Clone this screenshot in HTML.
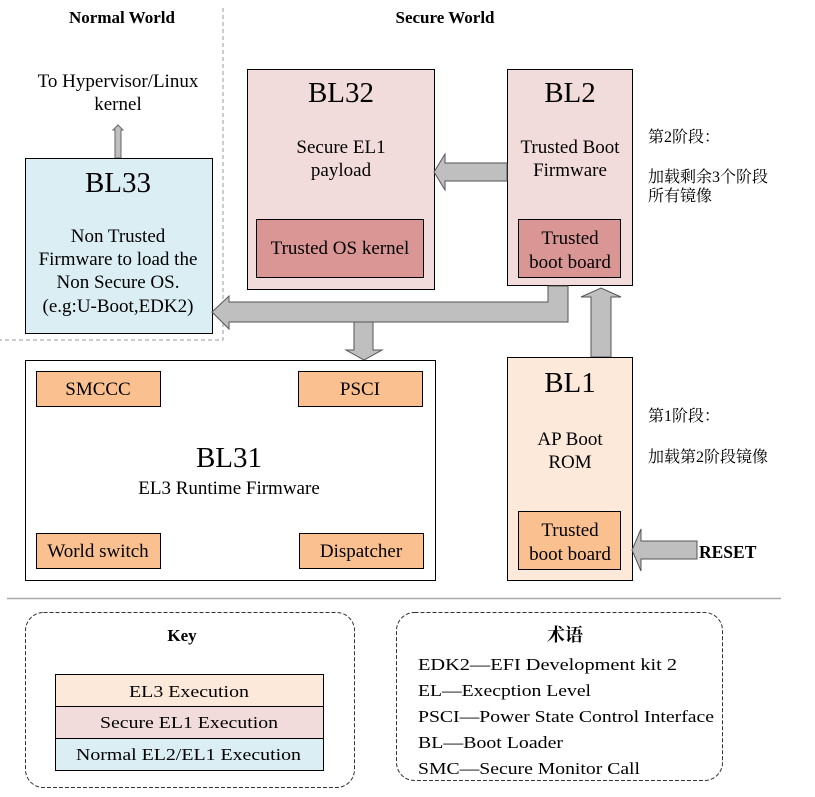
<!DOCTYPE html>
<html><head><meta charset="utf-8"><style>
html,body{margin:0;padding:0;background:#fff;}
svg{display:block;}
</style></head><body>
<svg width="815" height="797" viewBox="0 0 815 797" xmlns="http://www.w3.org/2000/svg" font-family="'Liberation Serif', 'DejaVu Serif', 'Noto Serif CJK SC', serif" style="font-family:'Liberation Serif','DejaVu Serif','Noto Serif CJK SC',serif">
<rect width="815" height="797" fill="#fff"/>
<path d="M223 8 V340 H0" fill="none" stroke="#999" stroke-width="1" stroke-dasharray="4,3"/>
<text x="122" y="23" font-size="17" font-weight="bold" text-anchor="middle">Normal World</text>
<text x="445" y="23" font-size="17" font-weight="bold" text-anchor="middle">Secure World</text>

<text x="118" y="87" font-size="19" text-anchor="middle">To Hypervisor/Linux</text>
<text x="118" y="110" font-size="19" text-anchor="middle">kernel</text>
<path d="M115 158 V130 H113 L118 125 L123 130 H121 V158 Z" fill="#bfbfbf" stroke="#666" stroke-width="1"/>

<rect x="25.5" y="158.5" width="187" height="175" fill="#dbeef4" stroke="#000"/>
<text x="118" y="192" font-size="29" text-anchor="middle">BL33</text>
<text x="118" y="242" font-size="19" text-anchor="middle">Non Trusted</text>
<text x="118" y="265" font-size="19" text-anchor="middle">Firmware to load the</text>
<text x="118" y="288" font-size="19" text-anchor="middle">Non Secure OS.</text>
<text x="118" y="312" font-size="19" text-anchor="middle">(e.g:U-Boot,EDK2)</text>

<rect x="247.5" y="69.5" width="187" height="220" fill="#f2dcdb" stroke="#000"/>
<text x="341" y="102" font-size="29" text-anchor="middle">BL32</text>
<text x="341" y="153" font-size="19" text-anchor="middle">Secure EL1</text>
<text x="341" y="176" font-size="19" text-anchor="middle">payload</text>
<rect x="256.5" y="219.5" width="167" height="58" fill="#d99694" stroke="#000"/>
<text x="340" y="254" font-size="19" text-anchor="middle">Trusted OS kernel</text>

<rect x="507.5" y="69.5" width="125" height="216" fill="#f2dcdb" stroke="#000"/>
<text x="570" y="102" font-size="29" text-anchor="middle">BL2</text>
<text x="570" y="153" font-size="19" text-anchor="middle">Trusted Boot</text>
<text x="570" y="176" font-size="19" text-anchor="middle">Firmware</text>
<rect x="518.5" y="219.5" width="102" height="58" fill="#d99694" stroke="#000"/>
<text x="570" y="244" font-size="19" text-anchor="middle">Trusted</text>
<text x="570" y="268" font-size="19" text-anchor="middle">boot board</text>

<text x="648" y="142" font-size="16">第2阶段：</text>
<text x="648" y="182" font-size="16">加载剩余3个阶段</text>
<text x="648" y="201" font-size="16">所有镜像</text>

<path d="M507 163 H445 V154 L434 172 L445 190 V181 H507 Z" fill="#bfbfbf" stroke="#555" stroke-width="1"/>
<path d="M548 286 V302 H229 V296 L212 312 L229 329 V322 H568 V286 Z" fill="#bfbfbf" stroke="#555" stroke-width="1"/>
<path d="M354 322 V350 H346 L364 360 L382 350 H373 V322 Z" fill="#bfbfbf" stroke="#555" stroke-width="1"/>
<path d="M591 357 V297 H581 L601 288 L621 297 H611 V357 Z" fill="#bfbfbf" stroke="#555" stroke-width="1"/>

<rect x="25.5" y="360.5" width="410" height="220" fill="#fff" stroke="#000"/>
<rect x="36.5" y="371.5" width="124" height="35" fill="#fac090" stroke="#000"/>
<text x="98" y="395" font-size="19" text-anchor="middle">SMCCC</text>
<rect x="298.5" y="371.5" width="124" height="35" fill="#fac090" stroke="#000"/>
<text x="360" y="395" font-size="19" text-anchor="middle">PSCI</text>
<text x="229" y="467" font-size="29" text-anchor="middle">BL31</text>
<text x="229" y="494" font-size="19" text-anchor="middle">EL3 Runtime Firmware</text>
<rect x="36.5" y="533.5" width="124" height="35" fill="#fac090" stroke="#000"/>
<text x="98" y="557" font-size="19" text-anchor="middle">World switch</text>
<rect x="299.5" y="533.5" width="124" height="35" fill="#fac090" stroke="#000"/>
<text x="361" y="557" font-size="19" text-anchor="middle">Dispatcher</text>

<rect x="507.5" y="357.5" width="125" height="223" fill="#fde9d9" stroke="#000"/>
<text x="570" y="392" font-size="29" text-anchor="middle">BL1</text>
<text x="570" y="445" font-size="19" text-anchor="middle">AP Boot</text>
<text x="570" y="468" font-size="19" text-anchor="middle">ROM</text>
<rect x="518.5" y="511.5" width="102" height="58" fill="#fac090" stroke="#000"/>
<text x="570" y="536" font-size="19" text-anchor="middle">Trusted</text>
<text x="570" y="560" font-size="19" text-anchor="middle">boot board</text>
<text x="648" y="421" font-size="16">第1阶段：</text>
<text x="648" y="462" font-size="16">加载第2阶段镜像</text>

<path d="M697 541 H641 V529 L632 550 L641 571 V559 H697 Z" fill="#bfbfbf" stroke="#555" stroke-width="1"/>
<text x="699" y="558" font-size="17.5" font-weight="bold">RESET</text>

<line x1="7" y1="598.5" x2="781" y2="598.5" stroke="#aaa" stroke-width="1.5"/>

<rect x="25.5" y="612.5" width="329" height="175" rx="18" fill="none" stroke="#333" stroke-dasharray="4,2"/>
<text x="182" y="641" font-size="17" font-weight="bold" text-anchor="middle">Key</text>
<rect x="55.5" y="674.5" width="268" height="32" fill="#fde9d9" stroke="#000"/>
<rect x="55.5" y="706.5" width="268" height="32" fill="#f2dcdb" stroke="#000"/>
<rect x="55.5" y="738.5" width="268" height="32" fill="#dbeef4" stroke="#000"/>
<text x="129" y="697" font-size="17" textLength="120" lengthAdjust="spacingAndGlyphs">EL3 Execution</text>
<text x="100" y="728" font-size="17" textLength="178" lengthAdjust="spacingAndGlyphs">Secure EL1 Execution</text>
<text x="76" y="760" font-size="17" textLength="225" lengthAdjust="spacingAndGlyphs">Normal EL2/EL1 Execution</text>

<rect x="396.5" y="612.5" width="326" height="168" rx="18" fill="none" stroke="#333" stroke-dasharray="4,2"/>
<text x="565" y="641" font-size="18" font-weight="bold" text-anchor="middle">术语</text>
<text x="418" y="670" font-size="17" textLength="259" lengthAdjust="spacingAndGlyphs">EDK2—EFI Development kit 2</text>
<text x="418" y="696" font-size="17" textLength="173" lengthAdjust="spacingAndGlyphs">EL—Execption Level</text>
<text x="418" y="722" font-size="17" textLength="296" lengthAdjust="spacingAndGlyphs">PSCI—Power State Control Interface</text>
<text x="418" y="748" font-size="17" textLength="145" lengthAdjust="spacingAndGlyphs">BL—Boot Loader</text>
<text x="418" y="774" font-size="17" textLength="222" lengthAdjust="spacingAndGlyphs">SMC—Secure Monitor Call</text>
</svg>
</body></html>
